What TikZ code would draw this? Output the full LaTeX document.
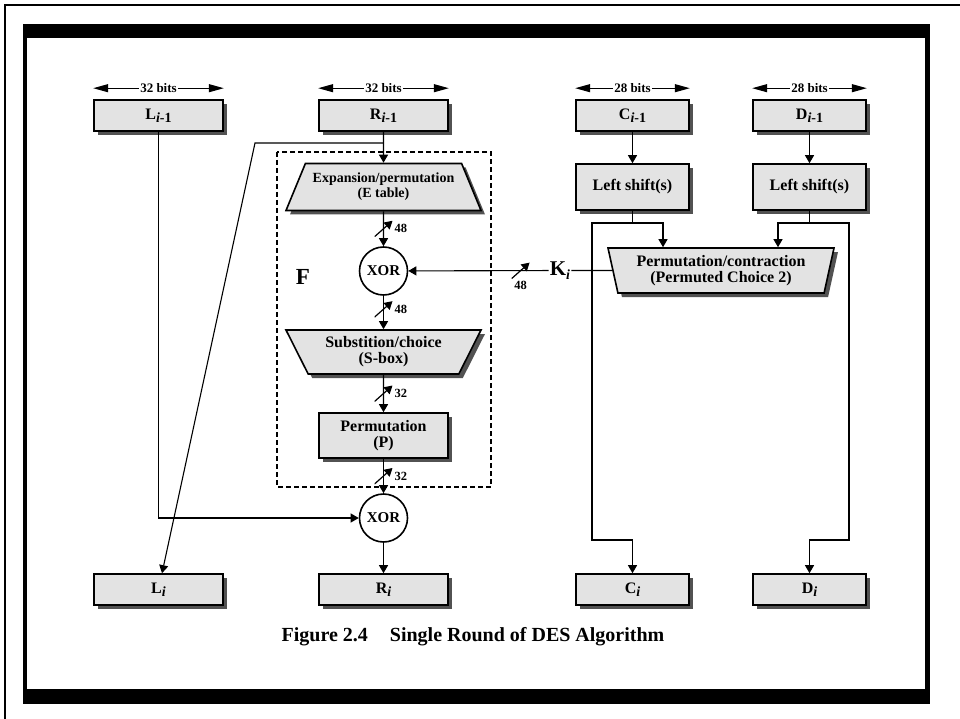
\documentclass[tikz,border=0pt]{standalone}
\usepackage{fontspec}
\setmainfont{Liberation Serif}
\usetikzlibrary{arrows.meta,shapes.geometric,shadows}

\newcommand{\fsz}[1]{\fontsize{#1}{#1}\selectfont}
\newcommand{\lowsub}[1]{\raisebox{-0.35ex}{\fsz{14}#1}}

\tikzset{
 reg/.style={draw,line width=1.6pt,fill=black!11,inner sep=0pt,
   minimum width=129pt,minimum height=31pt,font=\bfseries\fsz{16},
   drop shadow={shadow xshift=4pt,shadow yshift=-4pt,fill=black!75,opacity=.9}},
 shiftbox/.style={reg,minimum width=113pt,minimum height=46pt},
 trap/.style={reg,trapezium,trapezium stretches body,align=center,
   font=\bfseries\fontsize{16}{16}\selectfont},
 xor/.style={circle,draw,line width=1.6pt,fill=white,minimum size=48pt,
   inner sep=0pt,font=\bfseries\fsz{15}},
 conn/.style={line width=1.1pt},
 bitmark/.style={minimum width=18pt,minimum height=16pt,inner sep=0pt,label distance=2pt,
   path picture={\draw[line width=1.2pt] (path picture bounding box.south west)
     -- (path picture bounding box.north east);}},
 bitlbl/.style={font=\bfseries\fsz{12.5},inner sep=1pt},
 dimlbl/.style={font=\bfseries\fsz{13},inner sep=1pt,fill=white},
 bitsarrow/.style={{Triangle[length=15pt,width=8pt]}-{Triangle[length=15pt,width=8pt]},line width=1.1pt}
}

\begin{document}
\begin{tikzpicture}[x=1pt,y=-1pt,>={Triangle[length=8pt,width=9pt]}]
 \useasboundingbox (0,0) rectangle (960,719);
 % frame
 \draw[line width=2pt] (5,719) -- (5,5) -- (960,5);
 \fill (23,24) rectangle (930,704);
 \fill[white] (27,38) rectangle (925,689);

 \node[reg]                      (Lp)  at (158.5,115.5) {L\lowsub{\textit{i}-1}};
 \node[reg]                      (Rp)  at (383.5,115.5) {R\lowsub{\textit{i}-1}};
 \node[reg,minimum width=113pt]  (Cp)  at (632.5,115.5) {C\lowsub{\textit{i}-1}};
 \node[reg,minimum width=113pt]  (Dp)  at (809.5,115.5) {D\lowsub{\textit{i}-1}};
 \node[shiftbox]                 (Cls) at (632.5,187)   {Left shift(s)};
 \node[shiftbox]                 (Dls) at (809.5,187)   {Left shift(s)};

 \draw[dashed,dash pattern=on 5pt off 3pt,line width=1.1pt] (277,152) rectangle (491,487);
 \node[font=\bfseries\fsz{23}] (F) at (303,277) {F};

 \node[trap,trapezium left angle=55,trapezium right angle=55,minimum width=195pt,
   minimum height=47pt,font=\bfseries\fontsize{14}{15}\selectfont]
   (E) at (383.5,187) {Expansion/permutation\\(E table)};
 \node[xor] (X1) at (383.5,271) {XOR};
 \node[trap,trapezium left angle=126,trapezium right angle=126,minimum width=195pt,
   minimum height=44pt] (S) at (383.5,352) {Substition/choice\\(S-box)};
 \node[reg,minimum height=45pt,align=center,font=\bfseries\fontsize{16}{16}\selectfont]
   (P) at (383.5,435.5) {Permutation\\(P)};
 \node[xor] (X2) at (383.5,518) {XOR};

 \node[trap,trapezium left angle=108,trapezium right angle=108,minimum width=226pt,
   minimum height=45pt] (PC) at (721,270.5) {Permutation/contraction\\(Permuted Choice 2)};
 \node[font=\bfseries\fsz{21},inner sep=1pt] (K) at (560,270.5) {K\lowsub{\textit{i}}};

 \node[reg]                      (Li) at (158.5,589.5) {L\lowsub{\textit{i}}};
 \node[reg]                      (Ri) at (383.5,589.5) {R\lowsub{\textit{i}}};
 \node[reg,minimum width=113pt]  (Ci) at (632.5,589.5) {C\lowsub{\textit{i}}};
 \node[reg,minimum width=113pt]  (Di) at (809.5,589.5) {D\lowsub{\textit{i}}};

 \node[font=\bfseries\fsz{20}] (cap) at (473,637) {Figure 2.4\hspace{22pt}Single Round of DES Algorithm};

 % widths
 \draw[bitsarrow] ([yshift=11pt]Lp.north west) -- node[dimlbl] {32 bits} ([yshift=11pt]Lp.north east);
 \draw[bitsarrow] ([yshift=11pt]Rp.north west) -- node[dimlbl] {32 bits} ([yshift=11pt]Rp.north east);
 \draw[bitsarrow] ([yshift=11pt]Cp.north west) -- node[dimlbl] {28 bits} ([yshift=11pt]Cp.north east);
 \draw[bitsarrow] ([yshift=11pt]Dp.north west) -- node[dimlbl] {28 bits} ([yshift=11pt]Dp.north east);

 % right half round
 \coordinate (Rsplit) at (383.5,143);
 \draw[conn,->] (Rp) -- (E);
 \draw[conn,->] (Rsplit) -- (255,143) -- (Li);
 \draw[conn,->] (E) -- node[bitmark,label={[bitlbl]right:48}] {} (X1);
 \draw[conn,->] (X1) -- node[pos=.4,bitmark,label={[bitlbl]right:48}] {} (S);
 \draw[conn,->] (S) -- node[bitmark,label={[bitlbl]right:32}] {} (P);
 \draw[conn,->] (P) -- node[bitmark,label={[bitlbl]right:32}] {} (X2);
 \draw[conn,->] (Lp) |- (X2);
 \draw[conn,->] (X2) -- (Ri);

 % key schedule
 \draw[conn] (PC) -- (K);
 \draw[conn,->] (K) -- node[pos=.2,bitmark,label={[bitlbl]below:48}] {} (X1);
 \draw[conn,->] (Cp) -- (Cls);
 \draw[conn,->] (Dp) -- (Dls);
 \coordinate (Csplit) at (632.5,223);
 \coordinate (Dsplit) at (809.5,223);
 \draw[conn] (Cls) -- (Csplit);
 \draw[conn] (Dls) -- (Dsplit);
 \draw[conn,->] (Csplit) -| ([xshift=-58pt]PC.north);
 \draw[conn,->] (Dsplit) -| ([xshift=57pt]PC.north);
 \draw[conn,->] (Csplit) -| (592,540) -| (Ci);
 \draw[conn,->] (Dsplit) -| (849,540) -| (Di);
\end{tikzpicture}
\end{document}
